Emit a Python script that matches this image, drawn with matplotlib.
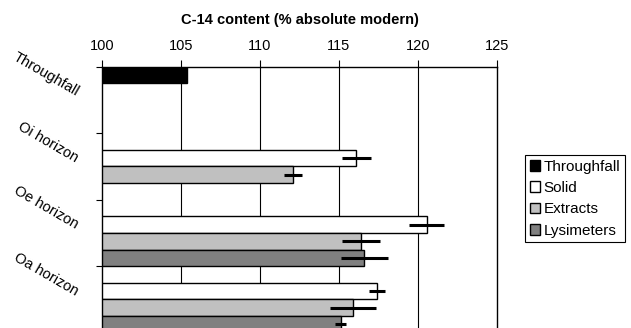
import numpy as np
import matplotlib
matplotlib.use("Agg")
import matplotlib.pyplot as plt
from matplotlib.patches import Patch
import matplotlib.transforms as mtransforms

plt.rcParams['font.family'] = ['Liberation Sans', 'DejaVu Sans']

categories = ["Throughfall", "Oi horizon", "Oe horizon", "Oa horizon"]
series_names = ["Throughfall", "Solid", "Extracts", "Lysimeters"]
throughfall = [105.4, np.nan, np.nan, np.nan]
solid = [np.nan, 116.1, 120.55, 117.4]
extracts = [np.nan, 112.1, 116.4, 115.9]
lysimeters = [np.nan, np.nan, 116.6, 115.1]
err_throughfall = [0, 0, 0, 0]
err_solid = [0, 0.9, 1.1, 0.5]
err_extracts = [0, 0.55, 1.2, 1.45]
err_lysimeters = [0, 0, 1.5, 0.35]
colors = ["#000000", "#FFFFFF", "#C0C0C0", "#808080"]
xticks = [100, 105, 110, 115, 120, 125]

W, H = 631, 328
fig = plt.figure(figsize=(W / 100, H / 100), dpi=100)
ax_left, ax_right = 102 / W, 497 / W
ax_top, ax_bot = 1 - 66.7 / H, 1 - 332.7 / H
ax = fig.add_axes([ax_left, ax_bot, ax_right - ax_left, ax_top - ax_bot])

base = 100
n = len(series_names)
slot = 1.0 / n
cat_idx = np.arange(len(categories))
all_vals = [throughfall, solid, extracts, lysimeters]
all_errs = [err_throughfall, err_solid, err_extracts, err_lysimeters]
for j, (vals, errs, c) in enumerate(zip(all_vals, all_errs, colors)):
    v = np.array(vals, dtype=float)
    e = np.array(errs, dtype=float)
    ypos = cat_idx + slot * j
    mask = ~np.isnan(v)
    ax.barh(ypos[mask], v[mask] - base, left=base, height=slot, align='edge',
            color=c, edgecolor='black', linewidth=1.0, zorder=3)
    emask = mask & (e > 0)
    if emask.any():
        ax.errorbar(v[emask], ypos[emask] + slot / 2, xerr=e[emask], fmt='none',
                    ecolor='black', elinewidth=2.2, capsize=0, zorder=4)

ax.set_xlim(100, 125)
ax.set_ylim(len(categories), 0)
ax.xaxis.tick_top()
ax.set_xticks(xticks)
ax.set_xticklabels([str(t) for t in xticks], fontsize=10.5)
ax.tick_params(axis='x', direction='out', length=5, width=0.8, pad=5, color='black')
ax.set_yticks(np.arange(len(categories) + 1))
ax.set_yticklabels([])
ax.tick_params(axis='y', direction='out', length=4, width=0.8)
for xv in xticks[1:-1]:
    ax.axvline(xv, color='black', linewidth=0.8, zorder=1)
for s in ['left', 'top', 'right']:
    ax.spines[s].set_color('black')
    ax.spines[s].set_linewidth(1.0)
ax.spines['bottom'].set_visible(False)

trans = mtransforms.blended_transform_factory(ax.transAxes, ax.transData)
for i, lab in enumerate(categories):
    ax.text(-0.062, i + 0.39, lab, transform=trans, rotation=-30,
            rotation_mode='anchor', ha='right', va='center', fontsize=10.5)

fig.text(300 / W, 1 - 20 / H, "C-14 content (% absolute modern)", ha='center',
         va='center', fontsize=10.5, fontweight='bold')

handles = [Patch(facecolor=c, edgecolor='black', linewidth=1.0) for c in colors]
leg = fig.legend(handles, series_names, loc='upper left',
                 bbox_to_anchor=(525 / W, 1 - 155 / H), fontsize=11,
                 frameon=True, fancybox=False, framealpha=1, edgecolor='black',
                 handlelength=0.7, handleheight=0.7, handletextpad=0.2,
                 labelspacing=0.48, borderpad=0.3, borderaxespad=0)
leg.get_frame().set_linewidth(0.8)

fig.savefig("out.png", dpi=100)
